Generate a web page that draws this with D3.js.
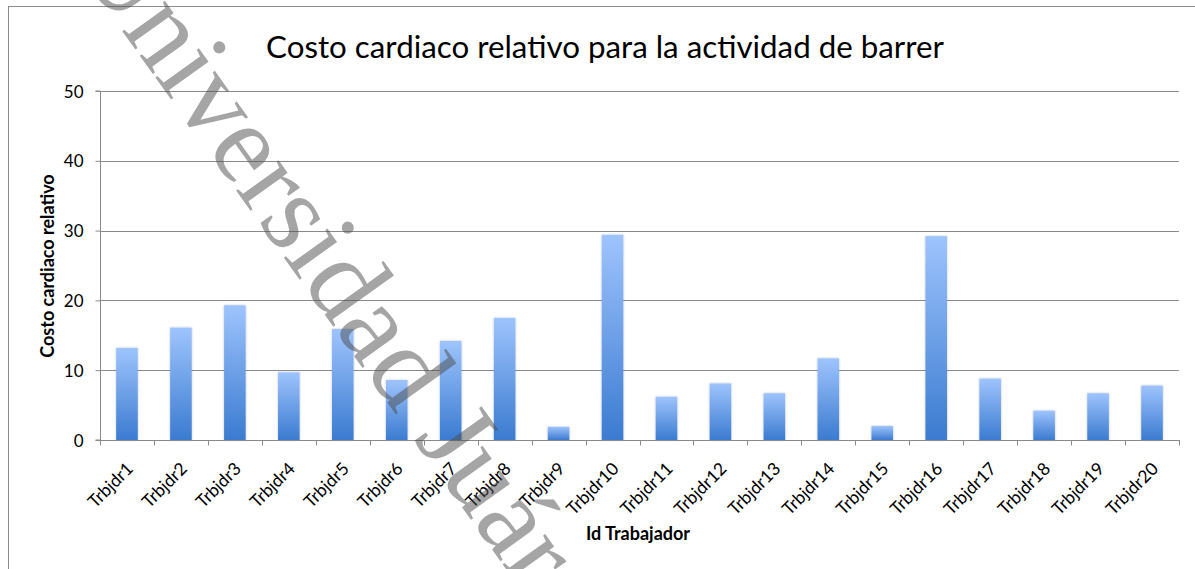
<!DOCTYPE html>
<html>
<head>
<meta charset="utf-8">
<script src="https://cdn.jsdelivr.net/npm/d3@7"></script>
<style>
  html, body { margin: 0; padding: 0; background: #fff; }
  svg { display: block; }
  text { font-family: Lato, "Open Sans", sans-serif; fill: #000; }
</style>
</head>
<body>
<svg id="chart" width="1195" height="569"></svg>
<script>
const categories = ["Trbjdr1","Trbjdr2","Trbjdr3","Trbjdr4","Trbjdr5","Trbjdr6","Trbjdr7","Trbjdr8","Trbjdr9","Trbjdr10",
  "Trbjdr11","Trbjdr12","Trbjdr13","Trbjdr14","Trbjdr15","Trbjdr16","Trbjdr17","Trbjdr18","Trbjdr19","Trbjdr20"];
const values = [13.2, 16.1, 19.3, 9.7, 15.9, 8.6, 14.2, 17.5, 1.9, 29.4,
  6.2, 8.1, 6.7, 11.7, 2.0, 29.2, 8.8, 4.2, 6.7, 7.8];
const yTicks = [0, 10, 20, 30, 40, 50];
const titleText = "Costo cardiaco relativo para la actividad de barrer";
const yTitle = "Costo cardiaco relativo";
const xTitle = "Id Trabajador";
const watermarkText = "Universidad Juárez";

const svg = d3.select("#chart");
const m = { left: 100, right: 1179, top: 91, bottom: 440 };

const defs = svg.append("defs");
const grad = defs.append("linearGradient").attr("id", "barGrad")
  .attr("x1", 0).attr("y1", 0).attr("x2", 0).attr("y2", 1);
grad.append("stop").attr("offset", "0%").attr("stop-color", "#9ec4fd");
grad.append("stop").attr("offset", "100%").attr("stop-color", "#3b7bd0");
const f = defs.append("filter").attr("id", "sh").attr("x", "-20%").attr("y", "-5%").attr("width", "140%").attr("height", "110%");
f.append("feDropShadow").attr("dx", 0).attr("dy", 0).attr("stdDeviation", 1).attr("flood-color", "#000").attr("flood-opacity", 0.25);

// outer border
svg.append("rect").attr("x", 8.5).attr("y", 6.5).attr("width", 1300).attr("height", 700)
  .attr("fill", "none").attr("stroke", "#8c8c8c").attr("stroke-width", 1);

const x = d3.scaleBand().domain(categories).range([m.left, m.right]).paddingInner(0.6).paddingOuter(0.3);
const xb = d3.scaleBand().domain(categories).range([m.left, m.right]).padding(0);
const y = d3.scaleLinear().domain([0, 50]).range([m.bottom, m.top]);

// gridlines
svg.append("g").selectAll("line").data(yTicks.filter(d => d > 0)).join("line")
  .attr("x1", m.left).attr("x2", m.right)
  .attr("y1", d => Math.round(y(d)) + 0.5).attr("y2", d => Math.round(y(d)) + 0.5)
  .attr("stroke", "#8a8a8a").attr("stroke-width", 1);

// bars
svg.append("g").selectAll("rect").data(values).join("rect")
  .attr("x", (d, i) => x(categories[i]))
  .attr("width", x.bandwidth())
  .attr("y", d => y(d))
  .attr("height", d => y(0) - y(d))
  .attr("fill", "url(#barGrad)")
  .attr("filter", "url(#sh)");

// y axis
const yAxis = d3.axisLeft(y).tickValues(yTicks).tickSize(5).tickPadding(12);
const gy = svg.append("g").attr("transform", `translate(${m.left + 0.5},0)`).call(yAxis);
gy.select(".domain").attr("stroke", "#8a8a8a").attr("d", `M-5,${m.top}H0V${m.bottom}H-5`);
gy.selectAll(".tick line").attr("stroke", "#8a8a8a");
gy.selectAll(".tick text").attr("font-family", "Lato, sans-serif").attr("font-size", 17).attr("fill", "#000")
  .attr("dy", "0.36em");

// x axis
const gx = svg.append("g").attr("transform", `translate(0,${m.bottom + 0.5})`);
gx.append("line").attr("x1", m.left).attr("x2", m.right + 1).attr("stroke", "#8a8a8a");
gx.selectAll("line.tk").data(categories.concat(["__end"])).join("line").attr("class", "tk")
  .attr("x1", (d, i) => i < categories.length ? Math.round(xb(d)) + 0.5 : m.right + 0.5)
  .attr("x2", (d, i) => i < categories.length ? Math.round(xb(d)) + 0.5 : m.right + 0.5)
  .attr("y1", 0).attr("y2", 5).attr("stroke", "#8a8a8a");
gx.selectAll("text").data(categories).join("text")
  .attr("transform", d => `translate(${xb(d) + xb.bandwidth() / 2 + 3},${25}) rotate(-45)`)
  .attr("text-anchor", "end")
  .attr("dy", "0.35em")
  .attr("font-size", 17.5)
  .text(d => d);

// title
svg.append("text").attr("x", 605).attr("y", 58).attr("text-anchor", "middle")
  .attr("font-size", 31.3).text(titleText);

// axis titles
svg.append("text").attr("x", 638).attr("y", 540).attr("text-anchor", "middle")
  .attr("font-size", 18).attr("font-weight", "bold").text(xTitle);
svg.append("text").attr("transform", `translate(53.5,266) rotate(-90)`).attr("text-anchor", "middle")
  .attr("font-size", 18).attr("font-weight", "bold").text(yTitle);

// watermark
svg.append("text").attr("transform", "translate(73,-38) rotate(54.5)")
  .attr("font-size", 114)
  .style("font-family", "'Liberation Serif', 'DejaVu Serif', serif")
  .style("fill", "#4d4d4d").attr("opacity", 0.5)
  .text(watermarkText);
</script>
</body>
</html>
